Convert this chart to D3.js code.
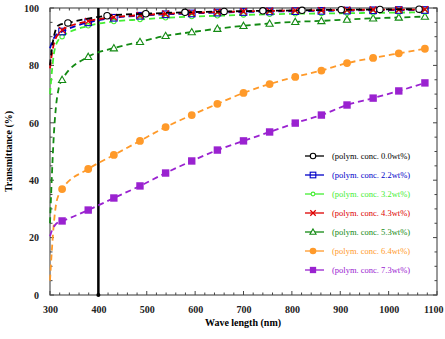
<!DOCTYPE html>
<html><head><meta charset="utf-8">
<script src="https://cdn.jsdelivr.net/npm/d3@7"></script>
<style>body{margin:0;background:#fff}svg{display:block}text{font-family:"Liberation Serif","DejaVu Serif",serif}</style>
</head><body>
<svg id="c" width="445" height="339"></svg>
<script>
// ---- data ----
const edgeWl = [300, 304, 308, 312, 318];
const markWl = [325, 379, 432, 486, 539, 593, 646, 700, 754, 807, 861, 914, 968, 1021, 1075];
const blackWl = [337, 418, 498, 579, 660, 740, 821, 902, 982, 1063];
const labels = ["(polym. conc. 0.0wt%)","(polym. conc. 2.2wt%)","(polym. conc. 3.2wt%)","(polym. conc. 4.3wt%)","(polym. conc. 5.3wt%)","(polym. conc. 6.4wt%)","(polym. conc. 7.3wt%)"];
const edge00 = [80, 86, 90, 92.5, 94];
const mark00 = [94.8, 97.3, 98.0, 98.5, 98.8, 99.0, 99.2, 99.4, 99.5, 99.6];
const edge22 = [86, 88, 89.5, 90.5, 91.2];
const mark22 = [91.8, 95.0, 96.6, 97.3, 97.8, 98.1, 98.4, 98.6, 98.8, 98.9, 99.0, 99.1, 99.2, 99.3, 99.3];
const edge32 = [70, 78, 84, 87, 89];
const mark32 = [90.0, 93.8, 95.3, 96.0, 96.6, 97.0, 97.3, 97.6, 97.8, 98.0, 98.1, 98.2, 98.3, 98.4, 98.5];
const edge43 = [79, 84, 87.5, 89.5, 91];
const mark43 = [92.3, 95.4, 96.8, 97.5, 98.0, 98.3, 98.6, 98.8, 99.0, 99.1, 99.2, 99.3, 99.4, 99.4, 99.5];
const edge53 = [25, 42, 56, 65, 72];
const mark53 = [75.0, 83.0, 86.0, 88.2, 90.3, 91.6, 92.8, 93.8, 94.6, 95.2, 95.5, 96.0, 96.4, 96.7, 97.0];
const edge64 = [5, 16, 25, 31, 35];
const mark64 = [36.9, 43.9, 48.8, 53.7, 58.5, 62.7, 66.6, 70.4, 73.5, 76.0, 78.2, 80.8, 82.6, 84.2, 85.8];
const edge73 = [20.5, 22.5, 23.8, 24.7, 25.4];
const mark73 = [25.8, 29.6, 33.8, 38.0, 42.5, 46.7, 50.5, 53.7, 56.8, 59.9, 62.7, 66.2, 68.6, 71.1, 73.9];
const xTicks = [300, 400, 500, 600, 700, 800, 900, 1000, 1100];
const yTicks = [0, 20, 40, 60, 80, 100];
const markerLine = 400;

// ---- build ----
const colors = ["#000000","#0000c8","#44ee33","#dd0000","#138a13","#ff9a2a","#9a22d0"];
const symbols = ["circle","square","smallcircle","cross","triangle","fcircle","fsquare"];
const series = [
  {e: edge00, m: mark00, mw: blackWl},
  {e: edge22, m: mark22, mw: markWl},
  {e: edge32, m: mark32, mw: markWl},
  {e: edge43, m: mark43, mw: markWl},
  {e: edge53, m: mark53, mw: markWl},
  {e: edge64, m: mark64, mw: markWl},
  {e: edge73, m: mark73, mw: markWl}
].map((s, i) => ({
  color: colors[i], sym: symbols[i], label: labels[i],
  line: edgeWl.map((w, j) => [w, s.e[j]]).concat(s.mw.map((w, j) => [w, s.m[j]])),
  marks: s.mw.map((w, j) => [w, s.m[j]])
}));

const svg = d3.select("#c");
const L = 50, R = 437, T = 8, B = 295;
const x = d3.scaleLinear([300, 1100], [L, R]);
const y = d3.scaleLinear([0, 100], [B, T]);

svg.append("rect").attr("x", L).attr("y", T).attr("width", R - L).attr("height", B - T)
  .attr("fill", "none").attr("stroke", "#555").attr("stroke-width", 1.2);

const xMinor = d3.range(300, 1100.1, 20);
const yMinor = d3.range(0, 100.1, 5);
const tg = svg.append("g").attr("stroke", "#444").attr("stroke-width", 1);
xMinor.forEach(v => {
  const len = xTicks.includes(v) ? 4 : 2.5;
  tg.append("line").attr("x1", x(v)).attr("x2", x(v)).attr("y1", B).attr("y2", B - len);
  tg.append("line").attr("x1", x(v)).attr("x2", x(v)).attr("y1", T).attr("y2", T + len);
});
yMinor.forEach(v => {
  const len = yTicks.includes(v) ? 4 : 2.5;
  tg.append("line").attr("y1", y(v)).attr("y2", y(v)).attr("x1", L).attr("x2", L + len);
  tg.append("line").attr("y1", y(v)).attr("y2", y(v)).attr("x1", R).attr("x2", R - len);
});

const xAx = svg.append("g").attr("transform", `translate(0,${B})`)
  .call(d3.axisBottom(x).tickValues(xTicks).tickSize(0).tickPadding(11).tickFormat(d3.format("d")));
const yAx = svg.append("g").attr("transform", `translate(${L},0)`)
  .call(d3.axisLeft(y).tickValues(yTicks).tickSize(0).tickPadding(11).tickFormat(d3.format("d")));
[xAx, yAx].forEach(a => {
  a.select(".domain").remove();
  a.selectAll("text").attr("font-size", 10).attr("font-weight", "bold").attr("fill", "#222")
    .attr("font-family", "Liberation Serif");
});
xAx.selectAll("text").filter(d => d === 1100).attr("text-anchor", "end").attr("dx", 6);

svg.append("text").attr("x", 243).attr("y", 326).attr("text-anchor", "middle")
  .attr("font-size", 10).attr("font-weight", "bold").text("Wave length (nm)");
svg.append("text").attr("transform", `translate(12,${(T + B) / 2}) rotate(-90)`).attr("text-anchor", "middle")
  .attr("font-size", 10).attr("font-weight", "bold").text("Transmittance (%)");

svg.append("line").attr("x1", x(markerLine)).attr("x2", x(markerLine)).attr("y1", y(0)).attr("y2", y(100))
  .attr("stroke", "#000").attr("stroke-width", 2.5);
svg.append("circle").attr("cx", x(markerLine)).attr("cy", y(0)).attr("r", 2).attr("fill", "#000");

function drawMarker(g, sym, color, cx, cy, k) {
  k = k || 1;
  if (sym === "circle") g.append("circle").attr("cx", cx).attr("cy", cy).attr("r", 3.2 * k).attr("fill", "#fff").attr("stroke", color).attr("stroke-width", 1.1);
  else if (sym === "square") g.append("rect").attr("x", cx - 3.3 * k).attr("y", cy - 3.3 * k).attr("width", 6.6 * k).attr("height", 6.6 * k).attr("fill", "none").attr("stroke", color).attr("stroke-width", 1.1);
  else if (sym === "smallcircle") g.append("circle").attr("cx", cx).attr("cy", cy).attr("r", 2.2 * k).attr("fill", "#fff").attr("stroke", color).attr("stroke-width", 1.1);
  else if (sym === "cross") { const r = 3.2 * k; g.append("path").attr("d", `M${cx-r},${cy-r}L${cx+r},${cy+r}M${cx-r},${cy+r}L${cx+r},${cy-r}`).attr("stroke", color).attr("stroke-width", 1.3); }
  else if (sym === "triangle") { const r = 3.6 * k; g.append("path").attr("d", `M${cx},${cy-r}L${cx+r},${cy+r*0.75}L${cx-r},${cy+r*0.75}Z`).attr("fill", "#fff").attr("stroke", color).attr("stroke-width", 1.1); }
  else if (sym === "fcircle") g.append("circle").attr("cx", cx).attr("cy", cy).attr("r", 3.9 * k).attr("fill", color);
  else if (sym === "fsquare") g.append("rect").attr("x", cx - 3.7 * k).attr("y", cy - 3.7 * k).attr("width", 7.4 * k).attr("height", 7.4 * k).attr("fill", color);
}

const line = d3.line().x(d => x(d[0])).y(d => y(d[1])).curve(d3.curveMonotoneX);
const order = [4, 5, 6, 2, 1, 3, 0];
order.forEach(i => {
  const s = series[i];
  const g = svg.append("g");
  g.append("path").attr("d", line(s.line)).attr("fill", "none").attr("stroke", s.color)
    .attr("stroke-width", 1.8).attr("stroke-dasharray", "6,4");
  s.marks.forEach(d => drawMarker(g, s.sym, s.color, x(d[0]), y(d[1])));
});

const lg = svg.append("g");
series.forEach((s, i) => {
  const yy = 156 + i * 19;
  lg.append("line").attr("x1", 305).attr("x2", 324).attr("y1", yy).attr("y2", yy)
    .attr("stroke", s.color).attr("stroke-width", 1.3);
  drawMarker(lg, s.sym, s.color, 313, yy, 0.85);
  lg.append("text").attr("x", 332).attr("y", yy + 3).attr("font-size", 8.5).attr("fill", s.color)
    .text(s.label);
});
</script>
</body></html>
